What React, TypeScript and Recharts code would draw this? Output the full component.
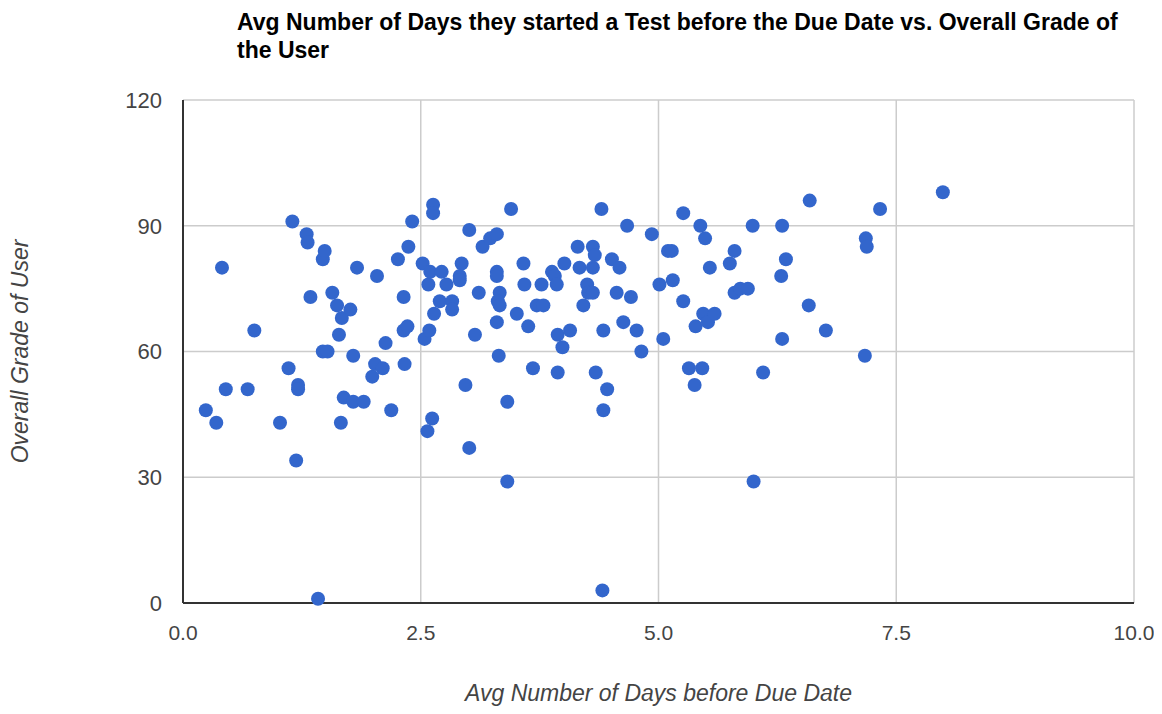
import React from "react";
import { ScatterChart, Scatter, XAxis, YAxis, CartesianGrid, Label } from "recharts";

const daysBeforeDue: number[] = [
  0.24, 0.35, 0.41, 0.45, 0.68, 0.75, 1.02, 1.11, 1.15, 1.19, 1.21, 1.21, 1.30, 1.31, 1.34, 1.42, 1.47, 1.52, 1.47, 1.49,
  1.57, 1.62, 1.64, 1.66, 1.67, 1.69, 1.76, 1.79, 1.79, 1.83, 1.90, 1.99, 2.02, 2.04, 2.10, 2.13, 2.19, 2.26, 2.32, 2.33,
  2.32, 2.36, 2.37, 2.41, 2.52, 2.54, 2.57, 2.59, 2.58, 2.60, 2.62, 2.63, 2.63, 2.64, 2.72, 2.70, 2.77, 2.83, 2.83, 2.93,
  2.91, 2.91, 2.97, 3.01, 3.01, 3.07, 3.11, 3.15, 3.23, 3.30, 3.30, 3.30, 3.30, 3.33, 3.31, 3.33, 3.32, 3.41, 3.41, 3.45,
  3.51, 3.58, 3.59, 3.63, 3.68, 3.72, 3.79, 3.77, 3.88, 3.91, 3.93, 3.94, 3.94, 3.99, 4.01, 4.07, 4.15, 4.17, 4.21, 4.25,
  4.26, 4.31, 4.33, 4.31, 4.31, 4.34, 4.40, 4.42, 4.42, 4.41, 4.46, 4.51, 4.56, 4.59, 4.63, 4.67, 4.71, 4.77, 4.82, 4.93,
  5.01, 5.05, 5.10, 5.14, 5.15, 5.26, 5.26, 5.32, 5.38, 5.39, 5.44, 5.46, 5.47, 5.49, 5.52, 5.54, 5.59, 5.75, 5.80, 5.80,
  5.86, 5.94, 5.99, 6.00, 6.10, 6.29, 6.30, 6.30, 6.34, 6.58, 6.59, 6.76, 7.18, 7.19, 7.17, 7.33, 7.99,
];

const overallGrade: number[] = [
  46, 43, 80, 51, 51, 65, 43, 56, 91, 34, 52, 51, 88, 86, 73, 1, 60, 60, 82, 84,
  74, 71, 64, 43, 68, 49, 70, 59, 48, 80, 48, 54, 57, 78, 56, 62, 46, 82, 73, 57,
  65, 66, 85, 91, 81, 63, 41, 65, 76, 79, 44, 95, 93, 69, 79, 72, 76, 72, 70, 81,
  78, 77, 52, 89, 37, 64, 74, 85, 87, 88, 67, 79, 78, 74, 72, 71, 59, 48, 29, 94,
  69, 81, 76, 66, 56, 71, 71, 76, 79, 78, 76, 64, 55, 61, 81, 65, 85, 80, 71, 76,
  74, 85, 83, 80, 74, 55, 94, 65, 46, 3, 51, 82, 74, 80, 67, 90, 73, 65, 60, 88,
  76, 63, 84, 84, 77, 72, 93, 56, 52, 66, 90, 56, 69, 87, 67, 80, 69, 81, 84, 74,
  75, 75, 90, 29, 55, 78, 90, 63, 82, 71, 96, 65, 87, 85, 59, 94, 98,
];

const xTicks: number[] = [0, 2.5, 5, 7.5, 10];
const yTicks: number[] = [0, 30, 60, 90, 120];

const titleText = "Avg Number of Days they started a Test before the Due Date vs. Overall Grade of the User";
const xLabel = "Avg Number of Days before Due Date";
const yLabel = "Overall Grade of User";

const points = daysBeforeDue.map((d, i) => ({ x: d, y: overallGrade[i] }));

const FONT = "'Liberation Sans', Arial, sans-serif";

const Dot = (props: any) => {
  const { cx, cy } = props;
  if (cx == null || cy == null) return null;
  return <circle cx={cx} cy={cy} r={7} fill="#3366CC" />;
};

export default function App() {
  return (
    <div style={{ position: "relative", width: 1146, height: 706, marginBottom: -8, fontFamily: FONT }}>
      <div
        style={{
          position: "absolute",
          left: 229,
          top: 0,
          width: 900,
          fontFamily: FONT,
          fontWeight: "bold",
          fontSize: 23,
          lineHeight: "28px",
          color: "#000",
        }}
      >
        {titleText}
      </div>
      <ScatterChart
        width={1146}
        height={706}
        margin={{ top: 92, right: 20, bottom: 81, left: 0 }}
        style={{ overflow: "visible" }}
      >
        <CartesianGrid stroke="#cccccc" strokeWidth={1.5} />
        <XAxis
          type="number"
          dataKey="x"
          domain={[0, 10]}
          ticks={xTicks}
          tickFormatter={(v: number) => v.toFixed(1)}
          tickLine={false}
          tickMargin={16}
          height={30}
          axisLine={{ stroke: "#333333", strokeWidth: 2 }}
          tick={{ fill: "#444444", fontSize: 21, fontFamily: FONT }}
        >
          <Label
            content={(p: any) => {
              const vb = p.viewBox || {};
              return (
                <text
                  x={vb.x + vb.width / 2}
                  y={693}
                  textAnchor="middle"
                  fontFamily={FONT}
                  fontStyle="italic"
                  fontSize={23}
                  fill="#444444"
                >
                  {xLabel}
                </text>
              );
            }}
          />
        </XAxis>
        <YAxis
          type="number"
          dataKey="y"
          domain={[0, 120]}
          ticks={yTicks}
          tickLine={false}
          tickMargin={15}
          width={175}
          axisLine={{ stroke: "#333333", strokeWidth: 2 }}
          tick={{ fill: "#444444", fontSize: 22, fontFamily: FONT }}
        >
          <Label
            content={(p: any) => {
              const vb = p.viewBox || {};
              const cy = vb.y + vb.height / 2;
              return (
                <text
                  x={12}
                  y={cy}
                  transform={`rotate(-90 12 ${cy})`}
                  textAnchor="middle"
                  dominantBaseline="central"
                  fontFamily={FONT}
                  fontStyle="italic"
                  fontSize={23}
                  fill="#444444"
                >
                  {yLabel}
                </text>
              );
            }}
          />
        </YAxis>
        <Scatter data={points} shape={Dot} isAnimationActive={false} />
      </ScatterChart>
    </div>
  );
}
